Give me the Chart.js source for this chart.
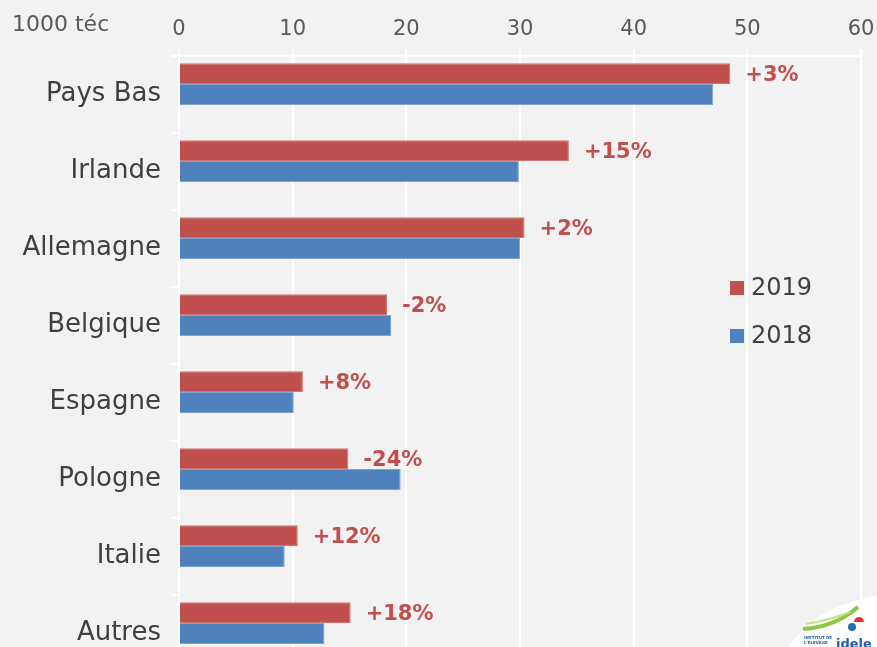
<!DOCTYPE html>
<html>
<head>
<meta charset="utf-8">
<script src="https://cdn.jsdelivr.net/npm/chart.js@4/dist/chart.umd.min.js"></script>
<style>
  html, body { margin: 0; padding: 0; background: #f2f2f2; overflow: hidden; }
  #wrap { position: absolute; left: 0; top: 0; width: 877px; height: 700px; }
</style>
</head>
<body>
<div id="wrap"><canvas id="c" width="877" height="700"></canvas></div>
<script>
// ---- data ----
const categories = ["Pays Bas", "Irlande", "Allemagne", "Belgique", "Espagne", "Pologne", "Italie", "Autres"];
const values2019 = [48.5, 34.3, 30.4, 18.3, 10.9, 14.9, 10.45, 15.1];
const values2018 = [47.0, 29.9, 30.0, 18.65, 10.1, 19.5, 9.3, 12.8];
const variationLabels = ["+3%", "+15%", "+2%", "-2%", "+8%", "-24%", "+12%", "+18%"];
const xTicks = [0, 10, 20, 30, 40, 50, 60];
const unitLabel = "1000 téc";
const seriesNames = ["2019", "2018"];

const RED = "#c0504d", BLUE = "#4f81bd";
const FONT = "'DejaVu Sans', sans-serif";

const labelsPlugin = {
  id: 'varLabels',
  afterDatasetsDraw(chart) {
    const ctx = chart.ctx;
    const meta = chart.getDatasetMeta(0);
    ctx.save();
    ctx.font = "bold 21px " + FONT;
    ctx.fillStyle = RED;
    ctx.textAlign = "left";
    ctx.textBaseline = "middle";
    meta.data.forEach((el, i) => {
      ctx.fillText(variationLabels[i], el.x + 15, el.y + 2);
    });
    ctx.restore();
  }
};

const extrasPlugin = {
  id: 'extras',
  afterDraw(chart) {
    const ctx = chart.ctx;
    ctx.save();
    // unit label
    ctx.font = "22px " + FONT;
    ctx.fillStyle = "#595959";
    ctx.textAlign = "left";
    ctx.textBaseline = "middle";
    ctx.fillText(unitLabel, 12, 25);
    // legend
    const legendY = [288, 336];
    [0, 1].forEach(i => {
      const ds = chart.data.datasets[i];
      ctx.fillStyle = ds.backgroundColor;
      ctx.fillRect(730, legendY[i] - 7, 14, 14);
      ctx.fillStyle = "#404040";
      ctx.font = "24px " + FONT;
      ctx.textBaseline = "middle";
      ctx.fillText(ds.label, 751, legendY[i] + 1);
    });
    // logo (approximation)
    ctx.fillStyle = "#ffffff";
    ctx.beginPath();
    ctx.moveTo(772, 700);
    ctx.quadraticCurveTo(780, 612, 877, 596);
    ctx.lineTo(877, 700);
    ctx.closePath();
    ctx.fill();
    ctx.strokeStyle = "#8dc63f";
    ctx.lineWidth = 4;
    ctx.beginPath();
    ctx.moveTo(803, 629);
    ctx.quadraticCurveTo(835, 627, 858, 607);
    ctx.stroke();
    ctx.strokeStyle = "#c5e08a";
    ctx.lineWidth = 2;
    ctx.beginPath();
    ctx.moveTo(806, 624);
    ctx.quadraticCurveTo(830, 620, 850, 612);
    ctx.stroke();
    ctx.fillStyle = "#e63329";
    ctx.beginPath();
    ctx.arc(859, 622, 5, Math.PI, 2 * Math.PI);
    ctx.fill();
    ctx.fillStyle = "#2b6cb0";
    ctx.beginPath();
    ctx.arc(852, 627, 4, 0, 2 * Math.PI);
    ctx.fill();
    ctx.fillStyle = "#1f5fa8";
    ctx.font = "bold 13px " + FONT;
    ctx.textBaseline = "alphabetic";
    ctx.fillText("idele", 836, 648);
    ctx.font = "bold 4px " + FONT;
    ctx.fillText("INSTITUT DE", 804, 639);
    ctx.fillText("L'ÉLEVAGE", 804, 644);
    ctx.restore();
  }
};

new Chart(document.getElementById('c'), {
  type: 'bar',
  data: {
    labels: categories,
    datasets: [
      { label: seriesNames[0], data: values2019, backgroundColor: RED, borderColor: "#cf7471", borderWidth: 1 },
      { label: seriesNames[1], data: values2018, backgroundColor: BLUE, borderColor: "#7fa3d0", borderWidth: 1 },
      { label: "", data: categories.map(() => null), backgroundColor: "rgba(0,0,0,0)" }
    ]
  },
  options: {
    indexAxis: 'y',
    responsive: false,
    animation: false,
    devicePixelRatio: 1,
    layout: { padding: { left: 0, right: 16, top: 0, bottom: 28 } },
    datasets: { bar: { categoryPercentage: 0.81, barPercentage: 1.0 } },
    plugins: { legend: { display: false }, tooltip: { enabled: false } },
    scales: {
      x: {
        position: 'top',
        min: 0, max: 60,
        afterBuildTicks(scale) { scale.ticks = xTicks.map(v => ({ value: v })); },
        afterFit(scale) { scale.height = 56; scale.paddingLeft = 0; scale.paddingRight = 0; },
        ticks: { color: "#595959", font: { family: FONT, size: 21 }, padding: 7, maxRotation: 0 },
        grid: { color: "#ffffff", lineWidth: 2, tickLength: 7, drawTicks: true },
        border: { display: true, color: "#ffffff", width: 2 }
      },
      y: {
        afterFit(scale) { scale.width = 179; },
        ticks: { color: "#404040", font: { family: FONT, size: 26 }, padding: 10 },
        grid: { offset: true, drawOnChartArea: false, color: "#ffffff", lineWidth: 2, tickLength: 8 },
        border: { display: true, color: "#ffffff", width: 2 }
      }
    }
  },
  plugins: [labelsPlugin, extrasPlugin]
});
</script>
</body>
</html>
